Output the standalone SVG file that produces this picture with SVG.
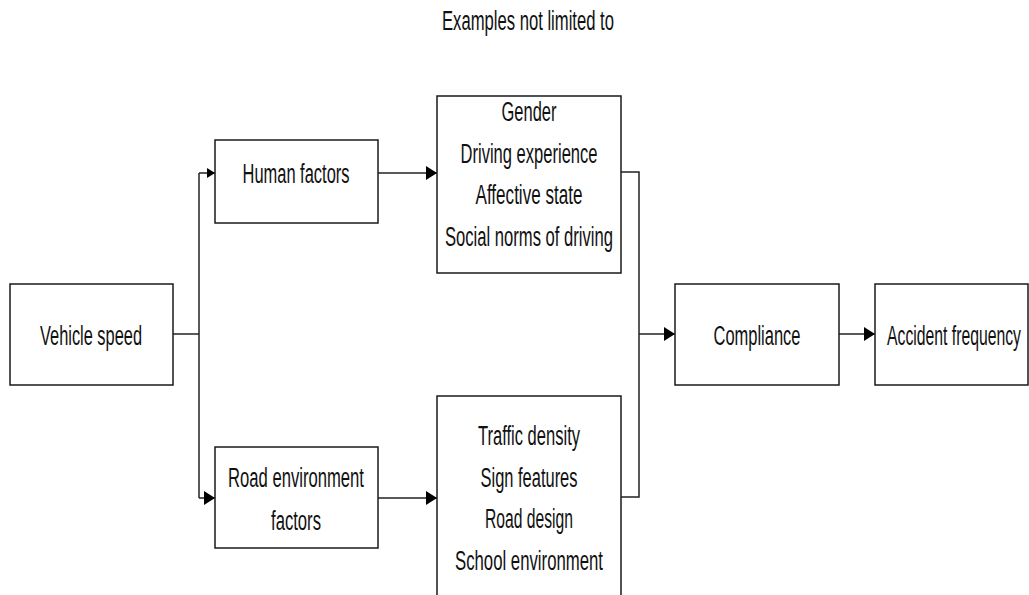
<svg xmlns="http://www.w3.org/2000/svg" width="1029" height="595" viewBox="0 0 1029 595">
<style>
.box{fill:#fff;stroke:#1a1a1a;stroke-width:1.5}
.t{font-family:"Liberation Sans",Arial,sans-serif;font-size:27px;fill:#111;text-anchor:middle}
.c{fill:none;stroke:#222;stroke-width:1.5}
</style>
<defs>
<marker id="ah" markerUnits="userSpaceOnUse" markerWidth="12" markerHeight="14" refX="11" refY="7" orient="auto">
<path d="M0,0 L11,7 L0,14 Z" fill="#000"/>
</marker>
<marker id="ahs" markerUnits="userSpaceOnUse" markerWidth="9" markerHeight="10" refX="8" refY="5" orient="auto">
<path d="M0,0 L8,5 L0,10 Z" fill="#000"/>
</marker>
</defs>
<rect width="1029" height="595" fill="#fff"/>
<text class="t" x="528" y="30" textLength="172" lengthAdjust="spacingAndGlyphs">Examples not limited to</text>
<g id="connectors">
<path class="c" d="M173,334 H199"/>
<path class="c" d="M199,173 V498" stroke="#555"/>
<path class="c" d="M199,173 H215" marker-end="url(#ahs)"/>
<path class="c" d="M199,498 H215" marker-end="url(#ah)"/>
<path class="c" d="M378,173 H437" marker-end="url(#ah)"/>
<path class="c" d="M378,498 H437" marker-end="url(#ah)"/>
<path class="c" d="M621,172 H639 V497 H621"/>
<path class="c" d="M639,334 H675" marker-end="url(#ah)"/>
<path class="c" d="M839,334 H875" marker-end="url(#ah)"/>
</g>
<g id="vehicle-speed">
<rect class="box" x="10" y="284" width="163" height="101"/>
<text class="t" x="91" y="345" textLength="102" lengthAdjust="spacingAndGlyphs">Vehicle speed</text>
</g>
<g id="human-factors">
<rect class="box" x="215" y="140" width="163" height="83"/>
<text class="t" x="296" y="183" textLength="107" lengthAdjust="spacingAndGlyphs">Human factors</text>
</g>
<g id="road-environment-factors">
<rect class="box" x="215" y="447" width="163" height="101"/>
<text class="t" x="296" y="487" textLength="136" lengthAdjust="spacingAndGlyphs">Road environment</text>
<text class="t" x="296" y="530" textLength="50" lengthAdjust="spacingAndGlyphs">factors</text>
</g>
<g id="human-examples">
<rect class="box" x="437" y="96" width="184" height="177"/>
<text class="t" x="529" y="121" textLength="55" lengthAdjust="spacingAndGlyphs">Gender</text>
<text class="t" x="529" y="163" textLength="137" lengthAdjust="spacingAndGlyphs">Driving experience</text>
<text class="t" x="529" y="204" textLength="107" lengthAdjust="spacingAndGlyphs">Affective state</text>
<text class="t" x="529" y="246" textLength="168" lengthAdjust="spacingAndGlyphs">Social norms of driving</text>
</g>
<g id="road-examples">
<rect class="box" x="437" y="396" width="184" height="210"/>
<text class="t" x="529" y="445" textLength="102" lengthAdjust="spacingAndGlyphs">Traffic density</text>
<text class="t" x="529" y="487" textLength="97" lengthAdjust="spacingAndGlyphs">Sign features</text>
<text class="t" x="529" y="528" textLength="88" lengthAdjust="spacingAndGlyphs">Road design</text>
<text class="t" x="529" y="570" textLength="148" lengthAdjust="spacingAndGlyphs">School environment</text>
</g>
<g id="compliance">
<rect class="box" x="675" y="284" width="164" height="101"/>
<text class="t" x="757" y="345" textLength="87" lengthAdjust="spacingAndGlyphs">Compliance</text>
</g>
<g id="accident-frequency">
<rect class="box" x="875" y="284" width="153" height="101"/>
<text class="t" x="954" y="345" textLength="134" lengthAdjust="spacingAndGlyphs">Accident frequency</text>
</g>
</svg>
